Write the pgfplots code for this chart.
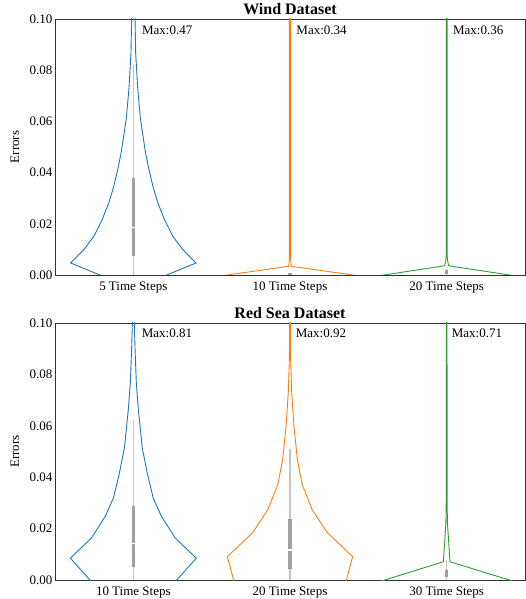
\documentclass[border=0pt]{standalone}
\usepackage{fontspec}
\setmainfont{Liberation Serif}
\usepackage{pgfplots}
\pgfplotsset{compat=1.18}
\definecolor{vblue}{HTML}{1F77B4}
\definecolor{vorange}{HTML}{FF7F0E}
\definecolor{vgreen}{HTML}{2CA02C}
\definecolor{whisk}{HTML}{C4C4C4}
\definecolor{boxg}{HTML}{A0A0A0}

\pgfplotsset{
  violinax/.style={
    scale only axis, width=470pt, height=256pt,
    xmin=-0.5, xmax=2.5, ymin=0, ymax=0.1,
    xtick={0,1,2}, ytick={0,0.02,0.04,0.06,0.08,0.1},
    major tick length=0pt,
    axis line style={black!80, line width=0.8pt},
    font=\fontsize{13}{15}\selectfont,
    /pgf/number format/assume math mode=true,
    yticklabel style={/pgf/number format/fixed, /pgf/number format/precision=2,
      /pgf/number format/fixed zerofill, xshift=1pt},
    xticklabel style={yshift=-3pt},
    scaled y ticks=false,
    ylabel={Errors},
    ylabel style={at={(axis description cs:-0.085,0.5)}, anchor=center},
    title style={font=\fontsize{16}{18}\selectfont\bfseries, at={(0.5,1)}, anchor=south,
      inner sep=1pt, yshift=-3pt},
  },
  vline/.style={line width=0.9pt, no marks},
  whisker/.style={whisk, line width=1.5pt, no marks},
  qbox/.style={boxg, line width=3.2pt, no marks},
  med/.style={white, line width=3.2pt, no marks},
}

\begin{document}
\begin{tikzpicture}
\path[use as bounding box] (0,0) rectangle (525pt,599pt);

% ---------------- Wind ----------------
\begin{axis}[violinax, at={(55pt,324pt)}, anchor=south west,
  title={Wind Dataset},
  xticklabels={5 Time Steps, 10 Time Steps, 20 Time Steps}]
% 5 time steps
\addplot[vline, vblue] coordinates {
  (-0.135,-0.002) (-0.214,0) (-0.40,0.0047) (-0.316,0.0099) (-0.252,0.0151)
  (-0.199,0.0216) (-0.157,0.0281) (-0.125,0.0346) (-0.100,0.0411) (-0.078,0.0477)
  (-0.062,0.0541) (-0.046,0.0607) (-0.036,0.0672) (-0.027,0.0737) (-0.021,0.0802)
  (-0.015,0.0867) (-0.013,0.0932) (-0.011,0.0997) (-0.008,0.12)
  (0.008,0.12) (0.011,0.0997) (0.013,0.0932) (0.015,0.0867) (0.021,0.0802)
  (0.027,0.0737) (0.036,0.0672) (0.046,0.0607) (0.062,0.0541) (0.078,0.0477)
  (0.100,0.0411) (0.125,0.0346) (0.157,0.0281) (0.199,0.0216) (0.252,0.0151)
  (0.316,0.0099) (0.40,0.0047) (0.214,0) (0.135,-0.002)};
\addplot[whisker] coordinates {(0,0) (0,0.0821)};
\addplot[qbox] coordinates {(0,0.0073) (0,0.0379)};
\addplot[med] coordinates {(0,0.0183) (0,0.0189)};
% 10 time steps
\addplot[vline, vorange] coordinates {
  (0.543,-0.0005) (0.60,0) (0.992,0.0034) (0.996,0.006) (0.996,0.12)
  (1.004,0.12) (1.004,0.006) (1.008,0.0034) (1.40,0) (1.457,-0.0005)};
\addplot[qbox] coordinates {(1,0) (1,0.0008)};
% 20 time steps
\addplot[vline, vgreen] coordinates {
  (1.543,-0.0005) (1.60,0) (1.987,0.0036) (1.994,0.0055) (1.997,0.0075) (1.997,0.12)
  (2.003,0.12) (2.003,0.0075) (2.006,0.0055) (2.013,0.0036) (2.40,0) (2.457,-0.0005)};
\addplot[whisker] coordinates {(2,0) (2,0.0025)};
\addplot[qbox] coordinates {(2,0.0005) (2,0.0019)};
\node[anchor=base west, inner sep=0pt] at (axis cs:0.055,0.0938) {Max:0.47};
\node[anchor=base west, inner sep=0pt] at (axis cs:1.04,0.0938) {Max:0.34};
\node[anchor=base west, inner sep=0pt] at (axis cs:2.04,0.0938) {Max:0.36};
\end{axis}

% ---------------- Red Sea ----------------
\begin{axis}[violinax, at={(55pt,19pt)}, anchor=south west, height=257pt,
  title={Red Sea Dataset},
  xticklabels={10 Time Steps, 20 Time Steps, 30 Time Steps}]
% 10 time steps
\addplot[vline, vblue] coordinates {
  (-0.247,-0.002) (-0.277,0) (-0.402,0.0085) (-0.268,0.0163) (-0.18,0.0247)
  (-0.127,0.0319) (-0.091,0.041) (-0.057,0.0514) (-0.032,0.0664) (-0.019,0.0768)
  (-0.011,0.0898) (-0.006,0.1) (-0.004,0.12)
  (0.004,0.12) (0.006,0.1) (0.011,0.0898) (0.019,0.0768) (0.032,0.0664)
  (0.057,0.0514) (0.091,0.041) (0.127,0.0319) (0.18,0.0247) (0.268,0.0163)
  (0.402,0.0085) (0.277,0) (0.247,-0.002)};
\addplot[whisker] coordinates {(0,0) (0,0.0622)};
\addplot[qbox] coordinates {(0,0.0052) (0,0.0289)};
\addplot[med] coordinates {(0,0.0139) (0,0.0145)};
% 20 time steps
\addplot[vline, vorange] coordinates {
  (0.649,-0.002) (0.64,0) (0.60,0.0091) (0.763,0.0185) (0.858,0.0273)
  (0.922,0.0371) (0.953,0.0469) (0.975,0.0599) (0.989,0.0729) (0.996,0.086)
  (0.998,0.1) (0.998,0.12)
  (1.002,0.12) (1.002,0.1) (1.004,0.086) (1.011,0.0729) (1.025,0.0599)
  (1.047,0.0469) (1.078,0.0371) (1.142,0.0273) (1.237,0.0185) (1.40,0.0091)
  (1.36,0) (1.351,-0.002)};
\addplot[whisker] coordinates {(1,0) (1,0.051)};
\addplot[qbox] coordinates {(1,0.0042) (1,0.0238)};
\addplot[med] coordinates {(1,0.0114) (1,0.0120)};
% 30 time steps
\addplot[vline, vgreen] coordinates {
  (1.552,-0.001) (1.605,0) (1.979,0.0071) (1.988,0.0156) (1.995,0.022)
  (1.997,0.03) (1.998,0.12)
  (2.002,0.12) (2.003,0.03) (2.005,0.022) (2.012,0.0156) (2.021,0.0071)
  (2.40,0) (2.452,-0.001)};
\addplot[whisker] coordinates {(2,0) (2,0.0078)};
\addplot[qbox] coordinates {(2,0.0010) (2,0.0039)};
\node[anchor=base west, inner sep=0pt] at (axis cs:0.053,0.0944) {Max:0.81};
\node[anchor=base west, inner sep=0pt] at (axis cs:1.036,0.0944) {Max:0.92};
\node[anchor=base west, inner sep=0pt] at (axis cs:2.032,0.0944) {Max:0.71};
\end{axis}
\end{tikzpicture}
\end{document}
